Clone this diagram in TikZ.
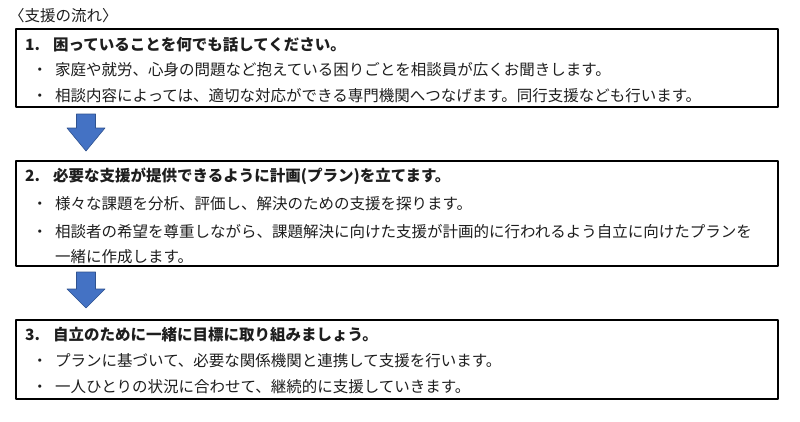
\documentclass[tikz,border=0pt]{standalone}
\usepackage{fontspec}
\setmainfont{Noto Sans CJK JP}
\usepackage{tikz}
\usetikzlibrary{positioning}
\definecolor{arrowblue}{HTML}{4472C4}
\definecolor{arrowedge}{HTML}{2F528F}
\definecolor{textgray}{HTML}{1E1E1E}

\begin{document}
\begin{tikzpicture}[line cap=round,line join=round,x=1pt,y=-1pt,
  stepbox/.style={draw,line width=1.2pt,rectangle,minimum width=762pt,inner sep=0pt},
  headline/.style={anchor=base west,inner sep=0pt,text=textgray,font=\fontsize{15.5}{18}\selectfont\bfseries},
  itemline/.style={anchor=base west,inner sep=0pt,text=textgray,font=\fontsize{15.5}{18}\selectfont},
  flowarrow/.style={fill=arrowblue,draw=arrowedge,line width=0.6pt}]
\useasboundingbox (0,0) rectangle (800,421);
\node[itemline] (title) at (9,21) {〈支援の流れ〉};
% step 1
\node[stepbox,minimum height=78pt] (box1) at (397,68) {};
\node[headline] (num1) at (25,50) {1.};
\node[headline] (head1) at (53,50) {困っていることを何でも話してください。};
\node[itemline] (dot11) at (32,75) {・};
\node[itemline] (item11) at (55,75) {家庭や就労、心身の問題など抱えている困りごとを相談員が広くお聞きします。};
\node[itemline] (dot12) at (32,101) {・};
\node[itemline] (item12) at (55,101) {相談内容によっては、適切な対応ができる専門機関へつなげます。同行支援なども行います。};
\draw[flowarrow] (76.5,114) -- (95.5,114) -- (95.5,128) -- (105,128) -- (86,151) -- (67,128) -- (76.5,128) -- cycle;
% step 2
\node[stepbox,minimum height=105pt] (box2) at (397,213.5) {};
\node[headline] (num2) at (25,181) {2.};
\node[headline] (head2) at (53,181) {必要な支援が提供できるように計画(プラン)を立てます。};
\node[itemline] (dot21) at (32,209) {・};
\node[itemline] (item21) at (55,209) {様々な課題を分析、評価し、解決のための支援を探ります。};
\node[itemline] (dot22) at (32,237) {・};
\node[itemline] (item22) at (55,237) {相談者の希望を尊重しながら、課題解決に向けた支援が計画的に行われるよう自立に向けたプランを};
\node[itemline] (item23) at (55,262) {一緒に作成します。};
\draw[flowarrow] (76.5,272) -- (95.5,272) -- (95.5,289) -- (105,289) -- (86,308) -- (67,289) -- (76.5,289) -- cycle;
% step 3
\node[stepbox,minimum height=79pt] (box3) at (397,359.5) {};
\node[headline] (num3) at (25,340) {3.};
\node[headline] (head3) at (53,340) {自立のために一緒に目標に取り組みましょう。};
\node[itemline] (dot31) at (32,366) {・};
\node[itemline] (item31) at (55,366) {プランに基づいて、必要な関係機関と連携して支援を行います。};
\node[itemline] (dot32) at (32,392) {・};
\node[itemline] (item32) at (55,392) {一人ひとりの状況に合わせて、継続的に支援していきます。};
\end{tikzpicture}
\end{document}
